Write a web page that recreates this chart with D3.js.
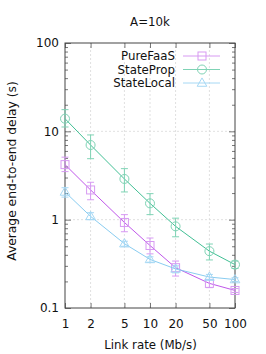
<!DOCTYPE html>
<html>
<head>
<meta charset="utf-8">
<script src="https://cdn.jsdelivr.net/npm/d3@7"></script>
<style>
  body { margin: 0; background: #fff; }
  svg { display: block; font-family: "DejaVu Sans", sans-serif; }
</style>
</head>
<body>
<svg id="chart"></svg>
<script>
// link rates (Mb/s)
const rates = [1, 2, 5, 10, 20, 50, 100];

// average delay and error bounds
const pureFaas     = [4.2, 2.17, 0.93, 0.51, 0.286, 0.19, 0.158];
const pureFaasLo   = [3.5, 1.68, 0.73, 0.41, 0.23, 0.17, 0.15];
const pureFaasHi   = [5.1, 2.65, 1.14, 0.62, 0.34, 0.21, 0.166];
const stateProp    = [13.9, 7.0, 2.89, 1.53, 0.84, 0.44, 0.31];
const statePropLo  = [11.2, 4.9, 2.06, 1.14, 0.64, 0.35, 0.28];
const statePropHi  = [17.6, 9.1, 3.78, 1.97, 1.04, 0.53, 0.34];
const stateLocal   = [2.06, 1.09, 0.535, 0.355, 0.277, 0.224, 0.21];
const stateLocalLo = [1.8, 1.0, 0.5, 0.33, 0.25, 0.21, 0.2];
const stateLocalHi = [2.3, 1.2, 0.57, 0.38, 0.3, 0.24, 0.22];

const xTicks = [1, 2, 5, 10, 20, 50, 100];
const yTicks = [0.1, 1, 10, 100];

const series = [
  {name: "PureFaaS", y: pureFaas, lo: pureFaasLo, hi: pureFaasHi, color: "#b844e6", light: "#d79af2", mark: "square"},
  {name: "StateProp", y: stateProp, lo: statePropLo, hi: statePropHi, color: "#2bb888", light: "#7fd3b5", mark: "circle"},
  {name: "StateLocal", y: stateLocal, lo: stateLocalLo, hi: stateLocalHi, color: "#7cc6ee", light: "#a6d8f4", mark: "triangle"}
];

let width = 266, height = 354;
let margem = {top: 43, right: 31, bottom: 46, left: 65};
const fonte = "11.8px";

let svg = d3.select("#chart")
  .attr("width", width)
  .attr("height", height)
  .attr("viewBox", "0 0 " + width + " " + height);

let x = d3.scaleLog().domain([1, 100]).range([margem.left, width - margem.right]);
let y = d3.scaleLog().domain([0.1, 100]).range([height - margem.bottom, margem.top]);

let x0 = x.range()[0], x1 = x.range()[1];
let y0 = y.range()[0], y1 = y.range()[1];

// grade tracejada
let grade = svg.append("g").attr("stroke", "#d8d8d8").attr("stroke-dasharray", "2,2").attr("stroke-width", 0.8);
xTicks.slice(1, -1).forEach(t => {
  grade.append("line").attr("x1", x(t)).attr("x2", x(t)).attr("y1", y0).attr("y2", y1);
});
yTicks.slice(1, -1).forEach(t => {
  grade.append("line").attr("x1", x0).attr("x2", x1).attr("y1", y(t)).attr("y2", y(t));
});

// minor ticks on y (2..9 per decade)
let minorY = [];
for (let d = 0.1; d < 100; d *= 10) {
  for (let k = 2; k <= 9; k++) minorY.push(d * k);
}

const tickColor = "#555";

// eixos com d3.axis
let eixoX = svg.append("g").attr("transform", "translate(0," + y0 + ")")
  .call(d3.axisBottom(x).tickValues(xTicks).tickFormat(d3.format("d")).tickSize(-5).tickPadding(11));
let eixoXtop = svg.append("g").attr("transform", "translate(0," + y1 + ")")
  .call(d3.axisTop(x).tickValues(xTicks).tickFormat("").tickSize(-5));
let eixoY = svg.append("g").attr("transform", "translate(" + x0 + ",0)")
  .call(d3.axisLeft(y).tickValues(yTicks).tickFormat(d => d < 1 ? "0.1" : d3.format("d")(d)).tickSize(-6).tickPadding(6));
let eixoYminor = svg.append("g").attr("transform", "translate(" + x0 + ",0)")
  .call(d3.axisLeft(y).tickValues(minorY).tickFormat("").tickSize(-3));
let eixoYr = svg.append("g").attr("transform", "translate(" + x1 + ",0)")
  .call(d3.axisRight(y).tickValues(yTicks).tickFormat("").tickSize(-6));
let eixoYrMinor = svg.append("g").attr("transform", "translate(" + x1 + ",0)")
  .call(d3.axisRight(y).tickValues(minorY).tickFormat("").tickSize(-3));

[eixoX, eixoXtop, eixoY, eixoYminor, eixoYr, eixoYrMinor].forEach(g => {
  g.select(".domain").remove();
  g.selectAll(".tick line").attr("stroke", tickColor).attr("stroke-width", 0.8);
  g.selectAll(".tick text").attr("fill", "#111").style("font-size", "12px").style("font-family", "DejaVu Sans, sans-serif");
});

// moldura
svg.append("rect")
  .attr("x", x0).attr("y", y1)
  .attr("width", x1 - x0).attr("height", y0 - y1)
  .attr("fill", "none").attr("stroke", "#444").attr("stroke-width", 1);

// markers
function desenhaMarca(g, tipo, cx, cy, cor) {
  if (tipo === "square") {
    g.append("rect").attr("x", cx - 4).attr("y", cy - 4).attr("width", 8).attr("height", 8)
      .attr("fill", "none").attr("stroke", cor).attr("stroke-width", 1);
  } else if (tipo === "circle") {
    g.append("circle").attr("cx", cx).attr("cy", cy).attr("r", 4.5)
      .attr("fill", "none").attr("stroke", cor).attr("stroke-width", 1);
  } else {
    g.append("path").attr("d", d3.symbol(d3.symbolTriangle, 40)())
      .attr("transform", "translate(" + cx + "," + (cy + 0.5) + ")")
      .attr("fill", "none").attr("stroke", cor).attr("stroke-width", 1);
  }
}

let linha = d3.line().x(d => x(d[0])).y(d => y(d[1]));

series.forEach(s => {
  let g = svg.append("g");
  let pontos = rates.map((r, i) => [r, s.y[i]]);
  g.append("path").datum(pontos).attr("d", linha)
    .attr("fill", "none").attr("stroke", s.color).attr("stroke-width", 0.9);
  rates.forEach((r, i) => {
    let cx = x(r);
    g.append("line").attr("x1", cx).attr("x2", cx).attr("y1", y(s.lo[i])).attr("y2", y(s.hi[i]))
      .attr("stroke", s.light).attr("stroke-width", 1);
    [s.lo[i], s.hi[i]].forEach(v => {
      g.append("line").attr("x1", cx - 3.5).attr("x2", cx + 3.5).attr("y1", y(v)).attr("y2", y(v))
        .attr("stroke", s.light).attr("stroke-width", 1);
    });
    desenhaMarca(g, s.mark, cx, y(s.y[i]), s.light);
  });
});

// legenda
series.forEach((s, i) => {
  let ly = 56 + i * 13.5;
  svg.append("text").attr("x", 175).attr("y", ly).attr("dy", "0.35em")
    .attr("text-anchor", "end").style("font-size", fonte).attr("fill", "#111").text(s.name);
  svg.append("line").attr("x1", 183).attr("x2", 220).attr("y1", ly).attr("y2", ly)
    .attr("stroke", s.light).attr("stroke-width", 1);
  desenhaMarca(svg, s.mark, 202, ly, s.light);
});

// titulos
svg.append("text").attr("x", 150).attr("y", 22).attr("dy", "0.35em").attr("text-anchor", "middle")
  .style("font-size", fonte).attr("fill", "#111").text("A=10k");
svg.append("text").attr("x", 150.5).attr("y", 345).attr("dy", "0.35em").attr("text-anchor", "middle")
  .style("font-size", fonte).attr("fill", "#111").text("Link rate (Mb/s)");
svg.append("text").attr("transform", "translate(12,171) rotate(-90)").attr("dy", "0.35em")
  .attr("text-anchor", "middle").style("font-size", "12.3px").attr("fill", "#111")
  .text("Average end-to-end delay (s)");
</script>
</body>
</html>
